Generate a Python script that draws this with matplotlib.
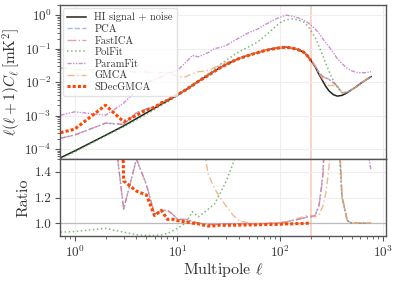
import numpy as np
import matplotlib
matplotlib.use('Agg')
import matplotlib.pyplot as plt

plt.rcParams['font.family'] = 'serif'
plt.rcParams['font.serif'] = ['cmr10']
plt.rcParams['mathtext.fontset'] = 'cm'
plt.rcParams['axes.unicode_minus'] = False
plt.rcParams['axes.formatter.use_mathtext'] = True

ell = [0.73, 1, 2, 3, 4, 5, 6, 7, 8, 9, 10,
       12, 14, 16, 18, 20, 23, 26, 30, 35, 40,
       50, 60, 70, 80, 90, 100, 115, 130, 150, 170, 185, 200,
       220, 240, 260, 280, 300, 330, 360, 400, 450, 500,
       550, 600, 680, 767]

# HI signal + noise, l(l+1)C_l in mK^2
cl_signal = [5.5e-5, 8.7e-5, 2.57e-4, 4.9e-4, 8.1e-4, 1.20e-3, 1.66e-3, 2.19e-3, 2.75e-3, 3.39e-3, 4.07e-3,
             5.75e-3, 7.9e-3, 1.05e-2, 1.32e-2, 1.62e-2, 2.14e-2, 2.69e-2, 3.39e-2, 4.27e-2, 5.13e-2,
             6.46e-2, 7.59e-2, 8.71e-2, 9.55e-2, 0.102, 0.107, 0.110, 0.105, 0.0933, 0.0776, 0.0603, 0.0437,
             0.0282, 0.0166, 0.0107, 7.2e-3, 5.4e-3, 4.2e-3, 3.8e-3, 4.0e-3, 4.8e-3, 6.0e-3,
             7.2e-3, 8.9e-3, 1.15e-2, 1.45e-2]

# ratio of each reconstruction to the HI signal + noise
pca = [3.8, 3.0, 2.3, 1.11, 1.5, 1.3, 1.07, 1.1, 1.1, 1.07, 1.03,
       1.03, 1.015, 1.0, 0.995, 0.99, 0.99, 0.99, 0.995, 0.995, 0.995,
       0.995, 0.995, 0.997, 1.0, 1.0, 1.005, 1.01, 1.02, 1.03, 1.04, 1.05, 1.05,
       1.06, 1.15, 1.38, 1.9, 2.2, 2.3, 2.0, 1.2, 1.02, 1.0,
       1.0, 1.0, 1.0, 1.0]
fastica = [3.8, 3.0, 2.3, 1.11, 1.5, 1.3, 1.07, 1.1, 1.1, 1.07, 1.03,
           1.03, 1.015, 1.0, 0.995, 0.99, 0.99, 0.99, 0.995, 0.995, 0.995,
           0.995, 0.995, 0.997, 1.0, 1.0, 1.005, 1.01, 1.02, 1.03, 1.04, 1.05, 1.05,
           1.06, 1.14, 1.35, 1.8, 2.2, 2.3, 2.0, 1.22, 1.02, 1.0,
           1.0, 1.0, 1.0, 1.0]
polfit = [0.93, 0.935, 0.96, 0.93, 0.91, 0.905, 0.905, 0.91, 0.92, 0.94, 0.96,
          1.0, 1.09, 1.05, 1.08, 1.11, 1.15, 1.23, 1.33, 1.47, 1.58,
          1.78, 2.05, 2.6, 3.4, 4.5, 5.6, 6.7, 7.3, 7.8, 8.0, 8.0, 7.8,
          7.5, 6.8, 5.8, 4.8, 3.8, 2.6, 1.8, 1.2, 1.02, 1.0,
          1.0, 1.0, 1.0, 1.0]
paramfit = [18.6, 14.8, 3.98, 4.79, 6.9, 7.4, 7.2, 6.5, 6.6, 5.9, 5.4,
            6.6, 7.9, 5.4, 5.0, 4.7, 4.7, 4.0, 3.7, 3.9, 4.1,
            4.7, 5.0, 5.75, 6.6, 7.4, 8.1, 9.1, 8.9, 8.9, 9.1, 10, 11.5,
            13.5, 17, 18.6, 20.4, 20.9, 17.8, 13.2, 8.9, 5.4, 3.6,
            2.7, 2.14, 1.66, 1.41]
gmca = [479, 275, 87, 43, 24.5, 16.6, 11.2, 8.7, 7.2, 5.1, 3.5,
        2.5, 2.24, 1.95, 1.6, 1.38, 1.27, 1.2, 1.13, 1.06, 1.02,
        1.0, 0.998, 0.998, 1.0, 1.0, 1.005, 1.01, 1.02, 1.04, 1.05, 1.06, 1.06,
        1.05, 1.07, 1.13, 1.24, 1.45, 1.9, 2.0, 1.2, 1.02, 1.0,
        1.0, 1.0, 1.0, 1.0]
# SDecGMCA only goes up to l = 200
sdecgmca = [5.6, 4.5, 7.9, 1.33, 1.25, 1.22, 1.06, 1.1, 1.03, 1.03, 1.02,
            1.01, 1.0, 0.995, 0.985, 0.978, 0.98, 0.985, 0.983, 0.985, 0.985,
            0.987, 0.987, 0.99, 0.99, 0.99, 0.992, 0.995, 0.995, 0.997, 0.998, 1.0, 1.0]

methods = [
    ('PCA', pca, dict(color='#8fa8dc', ls='--', lw=1.0, alpha=0.8)),
    ('FastICA', fastica, dict(color='#e0607a', ls='-.', lw=1.0, alpha=0.6)),
    ('PolFit', polfit, dict(color='#5ea85a', ls=':', lw=1.1, alpha=0.8)),
    ('ParamFit', paramfit, dict(color='#c47ad0', ls=(0, (3, 1, 1, 1, 1, 1)), lw=1.0, alpha=0.85)),
    ('GMCA', gmca, dict(color='#eba872', ls=(0, (5, 2, 1, 2)), lw=1.0, alpha=0.8)),
    ('SDecGMCA', sdecgmca, dict(color='#ff4500', ls=(0, (1, 0.7)), lw=2.2)),
]

fig, (ax1, ax2) = plt.subplots(2, 1, sharex=True, figsize=(3.97, 2.82), dpi=100,
                               gridspec_kw={'height_ratios': [2, 1], 'hspace': 0})
fig.subplots_adjust(left=0.151, right=0.972, top=0.982, bottom=0.163)

ell = np.array(ell)
cl_signal = np.array(cl_signal)

ax1.plot(ell, cl_signal, color='#222222', lw=1.1, label='HI signal + noise')
for name, r, st in methods:
    r = np.array(r)
    n = len(r)
    ax1.plot(ell[:n], cl_signal[:n] * r, label=name, **st)
    ax2.plot(ell[:n], r, **st)

for ax in (ax1, ax2):
    ax.axvline(200, color='#f7c2ad', lw=1.2, alpha=0.8, zorder=0)
    ax.grid(True, which='major', color='#eeeeee', lw=0.8)
    ax.set_axisbelow(True)
    for s in ax.spines.values():
        s.set_color('#555555')
        s.set_linewidth(1.0)
    ax.tick_params(which='both', colors='#555555', labelcolor='#333333', labelsize=9.5, pad=2.5)
ax2.axhline(1.0, color='#bbbbbb', lw=0.9, zorder=1)

ax1.set_xscale('log')
ax1.set_yscale('log')
ax1.set_ylim(5e-5, 2)
ax2.set_xlim(0.72, 1070)
ax2.set_ylim(0.9, 1.5)
ax2.set_yticks([1.0, 1.2, 1.4])
ax2.set_yticklabels(['1.0', '1.2', '1.4'])

ax1.set_ylabel(r'$\ell(\ell+1)C_\ell\,[\mathrm{mK}^2]$', fontsize=11, color='#333333', labelpad=1)
ax2.set_ylabel('Ratio', fontsize=11.5, color='#333333', labelpad=3)
ax2.set_xlabel(r'Multipole $\ell$', fontsize=11.5, color='#333333', labelpad=1)

leg = ax1.legend(loc='upper left', fontsize=7.5, labelspacing=0.2, handlelength=1.8,
                 borderaxespad=0.3, frameon=True, edgecolor='#dddddd')
for t in leg.get_texts():
    t.set_color('#333333')

fig.savefig('out.png', dpi=100)
